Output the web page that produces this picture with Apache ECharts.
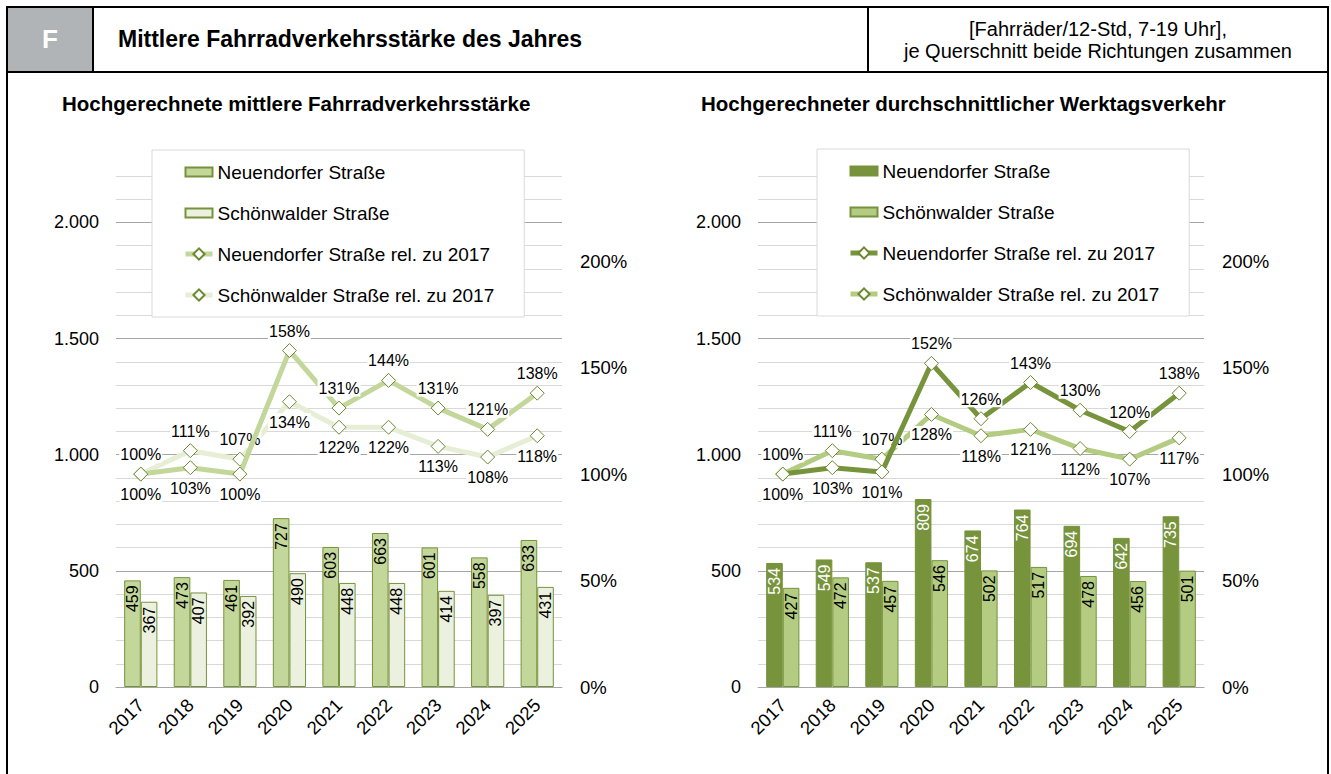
<!DOCTYPE html>
<html>
<head>
<meta charset="utf-8">
<script src="https://cdn.jsdelivr.net/npm/echarts@6/dist/echarts.min.js"></script>
<style>
  html, body { margin:0; padding:0; background:#fff; }
  body { width:1331px; height:774px; position:relative; overflow:hidden; font-family:"Liberation Sans", Arial, sans-serif; }
  .b { position:absolute; background:#000; z-index:5; }
  .chart { position:absolute; top:0; height:774px; }
  #hdrF { position:absolute; left:8px; top:8px; width:84px; height:63px; background:#b1b4b6; color:#fff; font-weight:bold; font-size:26px; display:flex; align-items:center; justify-content:center; z-index:4; }
  #hdrT { position:absolute; left:118px; top:8px; height:63px; display:flex; align-items:center; font-weight:bold; font-size:23px; color:#000; z-index:4; }
  #hdrU { position:absolute; left:869px; top:8px; width:458px; height:63px; display:flex; align-items:center; justify-content:center; text-align:center; font-size:20px; line-height:22px; color:#000; z-index:4; }
</style>
</head>
<body>
<div id="left" class="chart" style="left:0;width:666px;"></div>
<div id="right" class="chart" style="left:666px;width:665px;"></div>
<div id="hdrF">F</div>
<div id="hdrT">Mittlere Fahrradverkehrsstärke des Jahres</div>
<div id="hdrU">[Fahrräder/12-Std, 7-19 Uhr],<br>je Querschnitt beide Richtungen zusammen</div>
<div class="b" style="left:6px;top:6px;width:1323px;height:2px;"></div>
<div class="b" style="left:6px;top:71px;width:1323px;height:2px;"></div>
<div class="b" style="left:6px;top:6px;width:2px;height:768px;"></div>
<div class="b" style="left:1327px;top:6px;width:2px;height:768px;"></div>
<div class="b" style="left:92px;top:6px;width:2px;height:67px;"></div>
<div class="b" style="left:867px;top:6px;width:2px;height:67px;"></div>
<script>
// ---- data ----
const years = ['2017','2018','2019','2020','2021','2022','2023','2024','2025'];
const nameNeu = 'Neuendorfer Straße';
const nameSchoen = 'Schönwalder Straße';
const nameNeuRel = 'Neuendorfer Straße rel. zu 2017';
const nameSchoenRel = 'Schönwalder Straße rel. zu 2017';
const titleLeft = 'Hochgerechnete mittlere Fahrradverkehrsstärke';
const titleRight = 'Hochgerechneter durchschnittlicher Werktagsverkehr';

const leftNeu = [459, 473, 461, 727, 603, 663, 601, 558, 633];
const leftSchoen = [367, 407, 392, 490, 448, 448, 414, 397, 431];
const leftNeuRel = [100, 103, 100, 158, 131, 144, 131, 121, 138];
const leftSchoenRel = [100, 111, 107, 134, 122, 122, 113, 108, 118];

const rightNeu = [534, 549, 537, 809, 674, 764, 694, 642, 735];
const rightSchoen = [427, 472, 457, 546, 502, 517, 478, 456, 501];
const rightNeuRel = [100, 103, 101, 152, 126, 143, 130, 120, 138];
const rightSchoenRel = [100, 111, 107, 128, 118, 121, 112, 107, 117];

// ---- chart building ----
const FONT = '"Liberation Sans", Arial, sans-serif';
const gridColors = ['#a6a6a6', '#d9d9d9', '#d9d9d9', '#d9d9d9', '#d9d9d9'];
const barIcon = 'path://M0,0H27V9H0Z';

function fmtThousand(v) {
  if (v % 500 !== 0) return '';
  if (v >= 1000) return Math.floor(v / 1000) + '.' + String(v % 1000).padStart(3, '0');
  return String(v);
}

function relData(vals, other, upperWhenGreater) {
  return vals.map((v, i) => {
    const higher = upperWhenGreater ? v > other[i] : v >= other[i];
    return { value: v, label: { position: higher ? 'top' : 'bottom' } };
  });
}

function makeOption(c) {
  const lineLabel = {
    show: true, distance: 4, formatter: '{c}%', color: '#000', fontSize: 16,
    fontFamily: FONT, backgroundColor: '#fff', padding: [1, 1, 0, 1]
  };
  const barLabel = (col) => ({
    show: true, position: 'insideTop', rotate: 90, align: 'right', verticalAlign: 'middle',
    distance: 5, color: col, fontSize: 16, fontFamily: FONT
  });
  const axisGrey = '#a6a6a6';
  return {
    animation: false,
    textStyle: { fontFamily: FONT },
    title: {
      text: c.title, left: c.titleLeft, top: 93, padding: 0,
      textStyle: { fontSize: 20.5, fontWeight: 'bold', color: '#000', fontFamily: FONT }
    },
    legend: {
      orient: 'vertical', left: c.legendLeft, top: c.legendTop,
      padding: [11, 30, 11, 31], backgroundColor: '#fff', borderColor: '#d9d9d9', borderWidth: 1,
      itemWidth: 27, itemHeight: 14, itemGap: 19,
      lineStyle: { width: 5 },
      textStyle: { fontSize: 19, lineHeight: 22, color: '#000', fontFamily: FONT },
      data: [{ name: nameNeu, icon: barIcon }, { name: nameSchoen, icon: barIcon }, nameNeuRel, nameSchoenRel]
    },
    grid: { left: c.gridLeft, top: 176, width: 446, height: 511 },
    xAxis: [
      {
        type: 'category', data: years,
        axisLine: { lineStyle: { color: axisGrey, width: 1 } },
        axisTick: { length: 6, lineStyle: { color: axisGrey } },
        axisLabel: { rotate: 45, fontSize: 18.5, color: '#000', margin: 15, interval: 0, fontFamily: FONT }
      },
      {
        type: 'category', data: years, position: 'bottom',
        axisLine: { show: false },
        axisTick: { inside: true, length: 5, lineStyle: { color: axisGrey } },
        axisLabel: { show: false }
      }
    ],
    yAxis: [
      {
        type: 'value', min: 0, max: 2200, interval: 100,
        axisLine: { show: false }, axisTick: { show: false },
        axisLabel: { fontSize: 18, color: '#000', margin: 17, formatter: fmtThousand, fontFamily: FONT },
        splitLine: { show: true, lineStyle: { color: gridColors, width: 1 } }
      },
      {
        type: 'value', min: 0, max: 240, interval: 50, position: 'right',
        axisLine: { show: false }, axisTick: { show: false }, splitLine: { show: false },
        axisLabel: { fontSize: 18.5, color: '#000', margin: 18, formatter: '{value}%', showMaxLabel: false, fontFamily: FONT }
      }
    ],
    series: [
      {
        name: nameNeu, type: 'bar', data: c.neu, barGap: '0%', barCategoryGap: '33%',
        itemStyle: { color: c.colNeu, borderColor: '#76923c', borderWidth: 1 },
        label: barLabel(c.labNeu), emphasis: { disabled: true }
      },
      {
        name: nameSchoen, type: 'bar', data: c.schoen, barGap: '0%', barCategoryGap: '33%',
        itemStyle: { color: c.colSchoen, borderColor: '#76923c', borderWidth: 1 },
        label: barLabel('#000'), emphasis: { disabled: true }
      },
      {
        name: nameNeuRel, type: 'line', yAxisIndex: 1, data: relData(c.neuRel, c.schoenRel, true),
        symbol: 'diamond', symbolSize: 14, z: 4,
        lineStyle: { color: c.colNeuLine, width: 5 },
        itemStyle: { color: '#fff', borderColor: '#6b8a2f', borderWidth: 1 },
        label: lineLabel, emphasis: { disabled: true }
      },
      {
        name: nameSchoenRel, type: 'line', yAxisIndex: 1, data: relData(c.schoenRel, c.neuRel, false),
        symbol: 'diamond', symbolSize: 14, z: 3,
        lineStyle: { color: c.colSchoenLine, width: 5 },
        itemStyle: { color: '#fff', borderColor: '#6b8a2f', borderWidth: 1 },
        label: lineLabel, emphasis: { disabled: true }
      }
    ]
  };
}

const leftChart = echarts.init(document.getElementById('left'), null, { renderer: 'svg' });
leftChart.setOption(makeOption({
  title: titleLeft, titleLeft: 62, legendLeft: 152, legendTop: 150, gridLeft: 116,
  neu: leftNeu, schoen: leftSchoen, neuRel: leftNeuRel, schoenRel: leftSchoenRel,
  colNeu: '#c4d79b', colSchoen: '#ebf1de', labNeu: '#000',
  colNeuLine: '#c4d79b', colSchoenLine: '#e6eed6'
}));

const rightChart = echarts.init(document.getElementById('right'), null, { renderer: 'svg' });
rightChart.setOption(makeOption({
  title: titleRight, titleLeft: 35, legendLeft: 151, legendTop: 149, gridLeft: 92,
  neu: rightNeu, schoen: rightSchoen, neuRel: rightNeuRel, schoenRel: rightSchoenRel,
  colNeu: '#77933c', colSchoen: '#b3cc82', labNeu: '#fff',
  colNeuLine: '#77933c', colSchoenLine: '#b3cc82'
}));
</script>
</body>
</html>
